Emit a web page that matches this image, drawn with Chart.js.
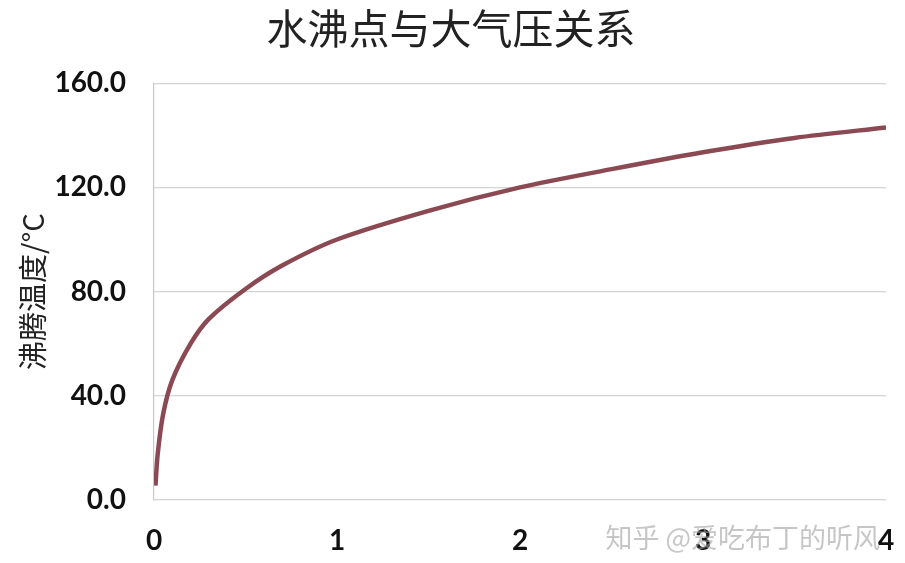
<!DOCTYPE html>
<html lang="zh">
<head>
    <meta charset="UTF-8">
    <title>水沸点与大气压关系</title>
    <script src="https://cdn.jsdelivr.net/npm/chart.js"></script>
    <style>
        html, body { margin: 0; padding: 0; background: #fff; }
        #wrap { width: 905px; height: 563px; }
    </style>
</head>
<body>
    <div id="wrap"><canvas id="boilChart"></canvas></div>
    <script>
        // pressure (atm) and boiling temperature (°C)
        const pressure = [0.008, 0.02, 0.05, 0.1, 0.2, 0.3, 0.5, 0.7, 1, 1.5, 2, 2.5, 3, 3.5, 4];
        const boilTemp = [5.5, 17.5, 33, 46, 60, 69.5, 81, 90, 100, 111, 120, 127, 133.5, 139, 143];
        const yTicks = [0, 40, 80, 120, 160];
        const xTicks = [0, 1, 2, 3, 4];

        const points = pressure.map((p, i) => ({ x: p, y: boilTemp[i] }));

        // watermark in the bottom right corner
        const watermark = {
            id: 'watermark',
            afterDraw(chart) {
                const ctx = chart.ctx;
                ctx.save();
                ctx.font = '27px "Noto Sans CJK SC"';
                ctx.fillStyle = 'rgba(160,160,160,0.6)';
                ctx.textAlign = 'right';
                ctx.textBaseline = 'middle';
                ctx.fillText('知乎 @爱吃布丁的听风', 880, 538);
                ctx.restore();
            }
        };

        new Chart(document.getElementById('boilChart'), {
            type: 'line',
            data: {
                datasets: [{
                    data: points,
                    borderColor: '#8b4a53',
                    borderWidth: 4.5,
                    pointRadius: 0,
                    tension: 0.3,
                    fill: false
                }]
            },
            options: {
                responsive: true,
                maintainAspectRatio: false,
                animation: false,
                layout: { padding: { top: 0, right: 19, left: 16, bottom: 0 } },
                plugins: {
                    legend: { display: false },
                    tooltip: { enabled: false },
                    title: {
                        display: true,
                        text: '水沸点与大气压关系',
                        color: '#222',
                        font: { family: '"Noto Sans CJK SC"', size: 41, weight: 'normal' },
                        padding: { top: 4, bottom: 30 }
                    }
                },
                scales: {
                    x: {
                        type: 'linear',
                        min: 0,
                        max: 4,
                        afterBuildTicks(scale) {
                            scale.ticks = xTicks.map(v => ({ value: v }));
                        },
                        afterFit(scale) { scale.height = 63; },
                        grid: {
                            display: true,
                            drawOnChartArea: false,
                            drawTicks: true,
                            tickLength: 22,
                            tickColor: 'rgba(0,0,0,0)'
                        },
                        border: { display: false },
                        ticks: {
                            color: '#111',
                            padding: 2,
                            maxRotation: 0,
                            font: { family: 'Lato', size: 28, weight: 'bold' },
                            callback: v => String(v)
                        }
                    },
                    y: {
                        min: 0,
                        max: 160,
                        afterBuildTicks(scale) {
                            scale.ticks = yTicks.map(v => ({ value: v }));
                        },
                        afterFit(scale) { scale.width = 138; },
                        grid: { color: '#d4d4d4', lineWidth: 1.2, drawTicks: false },
                        border: { display: true, color: '#c8c8c8', width: 1.2 },
                        title: {
                            display: true,
                            text: '沸腾温度/°C',
                            color: '#222',
                            font: { family: '"Noto Sans CJK SC"', size: 29, weight: 'normal' },
                            padding: { top: 0, bottom: 0 }
                        },
                        ticks: {
                            color: '#111',
                            padding: 28,
                            font: { family: 'Lato', size: 28, weight: 'bold' },
                            callback: v => v.toFixed(1)
                        }
                    }
                }
            },
            plugins: [watermark]
        });
    </script>
</body>
</html>
